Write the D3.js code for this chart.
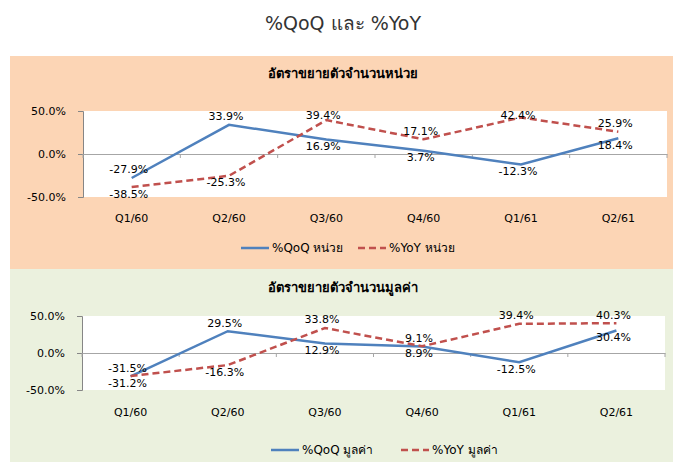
<!DOCTYPE html>
<html>
<head>
<meta charset="utf-8">
<script src="https://cdn.jsdelivr.net/npm/d3@7"></script>
<style>
  body { margin: 0; background: #fff; }
  svg text { font-family: "DejaVu Sans", Tahoma, sans-serif; }
</style>
</head>
<body>
<div class="chart"></div>
<script>
// data ============================================================ //
var quarters = ["Q1/60", "Q2/60", "Q3/60", "Q4/60", "Q1/61", "Q2/61"];
var yTicks = [-50, 0, 50];

var qoqUnits = [-27.9, 33.9, 16.9, 3.7, -12.3, 18.4];
var yoyUnits = [-38.5, -25.3, 39.4, 17.1, 42.4, 25.9];

var qoqValue = [-31.5, 29.5, 12.9, 8.9, -12.5, 30.4];
var yoyValue = [-31.2, -16.3, 33.8, 9.1, 39.4, 40.3];

var mainTitle = "%QoQ และ %YoY";

function pct(d) {
  return d.toFixed(1) + "%";
}

// drawing ========================================================= //
var svg = d3.select(".chart")
  .append("svg")
  .attr("width", 673)
  .attr("height", 462);

svg.append("text")
  .attr("x", 343)
  .attr("y", 23)
  .attr("text-anchor", "middle")
  .attr("dominant-baseline", "central")
  .attr("font-size", "19px")
  .attr("fill", "#333")
  .text(mainTitle);

function drawPanel(opts) {
  var g = svg.append("g");

  g.append("rect")
    .attr("x", 10)
    .attr("y", opts.top)
    .attr("width", 663)
    .attr("height", opts.height)
    .attr("fill", opts.bg);

  g.append("text")
    .attr("x", 343)
    .attr("y", opts.titleY)
    .attr("text-anchor", "middle")
    .attr("dominant-baseline", "central")
    .attr("font-size", "13px")
    .attr("font-weight", "bold")
    .text(opts.title);

  var x = d3.scaleBand()
    .domain(quarters)
    .range([opts.plot.left, opts.plot.right]);

  var y = d3.scaleLinear()
    .domain([-50, 50])
    .range([opts.plot.bottom, opts.plot.top]);

  // plot area
  g.append("rect")
    .attr("x", opts.plot.left)
    .attr("y", opts.plot.top)
    .attr("width", opts.plot.right - opts.plot.left)
    .attr("height", opts.plot.bottom - opts.plot.top)
    .attr("fill", "#fff");

  // y axis
  var yAxis = g.append("g")
    .attr("transform", "translate(" + opts.plot.left + ",0)")
    .call(d3.axisLeft(y).tickValues(yTicks).tickSize(5).tickPadding(12)
      .tickFormat(pct));
  yAxis.select(".domain").attr("stroke", "#868686");
  yAxis.selectAll(".tick line").attr("stroke", "#868686");
  yAxis.selectAll("text")
    .attr("font-size", "11px")
    .attr("fill", "#000")
    .style("font-family", "'DejaVu Sans', Tahoma, sans-serif");

  // zero line with category ticks
  var xAxis = g.append("g")
    .attr("transform", "translate(0," + y(0) + ")")
    .call(d3.axisBottom(x).tickSize(0).tickFormat(""));
  xAxis.select(".domain").attr("stroke", "#a6a6a6");
  xAxis.selectAll(".tick").remove();
  xAxis.selectAll(".edge")
    .data(quarters.concat(["end"]))
    .enter()
    .append("line")
    .attr("x1", function (d, i) { return opts.plot.left + i * x.step(); })
    .attr("x2", function (d, i) { return opts.plot.left + i * x.step(); })
    .attr("y1", 0)
    .attr("y2", 4)
    .attr("stroke", "#a6a6a6");

  // category labels
  g.selectAll(".cat")
    .data(quarters)
    .enter()
    .append("text")
    .attr("x", function (d) { return x(d) + x.bandwidth() / 2; })
    .attr("y", opts.catY)
    .attr("text-anchor", "middle")
    .attr("dominant-baseline", "central")
    .attr("font-size", "11px")
    .text(function (d) { return d; });

  var line = d3.line()
    .x(function (d, i) { return x(quarters[i]) + x.bandwidth() / 2; })
    .y(function (d) { return y(d); });

  var series = [
    { values: opts.qoq, color: "#4F81BD", dash: null, name: opts.qoqName },
    { values: opts.yoy, color: "#C0504D", dash: "7,4", name: opts.yoyName }
  ];

  series.forEach(function (s) {
    g.append("path")
      .datum(s.values)
      .attr("d", line)
      .attr("fill", "none")
      .attr("stroke", s.color)
      .attr("stroke-width", 2.5)
      .attr("stroke-dasharray", s.dash);
  });

  // data labels: the higher point of each quarter gets its label above,
  // near ties are settled by where the lines go next
  function isAbove(vals, other, i) {
    var diff = vals[i] - other[i];
    if (Math.abs(diff) < 1 && i + 1 < vals.length) {
      diff = vals[i + 1] - other[i + 1];
    }
    return diff > 0;
  }

  series.forEach(function (s, si) {
    var other = series[1 - si].values;
    g.selectAll(".lbl" + si)
      .data(s.values)
      .enter()
      .append("text")
      .attr("x", function (d, i) { return x(quarters[i]) + x.bandwidth() / 2 - 3; })
      .attr("y", function (d, i) {
        if (isAbove(s.values, other, i)) {
          return Math.max(y(d) - 8, opts.plot.top + opts.labelClamp);
        }
        return y(d) + 7;
      })
      .attr("text-anchor", "middle")
      .attr("dominant-baseline", "central")
      .attr("font-size", "11px")
      .text(pct);
  });

  // legend
  series.forEach(function (s, si) {
    var lx = opts.legend[si];
    g.append("line")
      .attr("x1", lx)
      .attr("x2", lx + 28)
      .attr("y1", opts.legendY)
      .attr("y2", opts.legendY)
      .attr("stroke", s.color)
      .attr("stroke-width", 2.5)
      .attr("stroke-dasharray", s.dash);
    g.append("text")
      .attr("x", lx + 31)
      .attr("y", opts.legendY)
      .attr("dominant-baseline", "central")
      .attr("font-size", "12px")
      .text(s.name);
  });
}

drawPanel({
  top: 56, height: 213, bg: "#FCD5B5",
  title: "อัตราขยายตัวจำนวนหน่วย", titleY: 73,
  plot: { left: 83, right: 667, top: 111, bottom: 197 },
  labelClamp: 4,
  catY: 218, legendY: 248, legend: [241, 358],
  qoq: qoqUnits, yoy: yoyUnits,
  qoqName: "%QoQ หน่วย", yoyName: "%YoY หน่วย"
});

drawPanel({
  top: 269, height: 193, bg: "#EBF1DE",
  title: "อัตราขยายตัวจำนวนมูลค่า", titleY: 287,
  plot: { left: 82, right: 665, top: 316, bottom: 390 },
  labelClamp: -10,
  catY: 412, legendY: 450, legend: [271, 401],
  qoq: qoqValue, yoy: yoyValue,
  qoqName: "%QoQ มูลค่า", yoyName: "%YoY มูลค่า"
});
</script>
</body>
</html>
